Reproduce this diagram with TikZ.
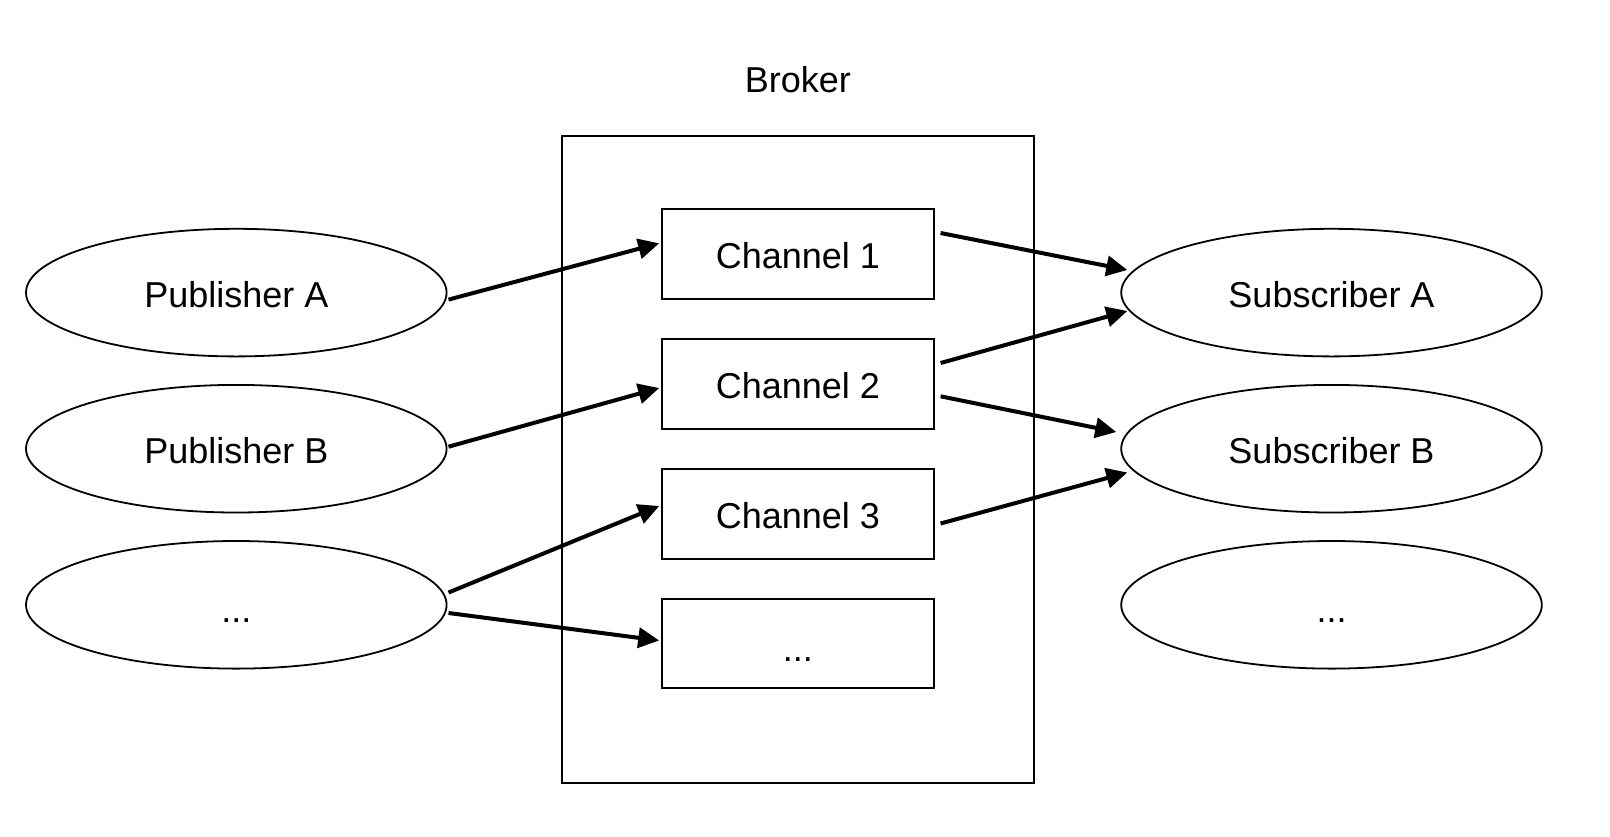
\documentclass[tikz,border=0pt]{standalone}
\usepackage{fontspec}
\setmainfont{Liberation Sans}
\usetikzlibrary{shapes.geometric,arrows.meta,calc}
\begin{document}
\begin{tikzpicture}[x=0.5pt,y=-0.5pt,
  every node/.style={font=\fontsize{18}{21}\selectfont},
  actor/.style={draw,ellipse,line width=0.9pt,minimum width=210.3pt,minimum height=63.8pt,inner sep=0pt},
  chan/.style={draw,rectangle,line width=1pt,minimum width=136.2pt,minimum height=44.8pt,inner sep=0pt},
  frame/.style={draw,line width=1pt},
  lbl/.style={yshift=-1pt},
  dots/.style={yshift=-2.5pt},
  link/.style={line width=2pt,-{Triangle[length=10.5pt,width=10pt]}}]
\useasboundingbox (0,0) rectangle (1610,836);
% broker
\node[frame,minimum width=236.15pt,minimum height=323.95pt,inner sep=0pt] (broker) at (797.85,459.45) {};
\node (blabel) at (797.8,80) {Broker};
% channels
\node[chan] (c1) at (797.9,254) {};
\node[chan] (c2) at (797.9,384) {};
\node[chan] (c3) at (797.9,514) {};
\node[chan] (c4) at (797.9,643.5) {};
\node[lbl] (t1) at (c1) {Channel 1};
\node[lbl] (t2) at (c2) {Channel 2};
\node[lbl] (t3) at (c3) {Channel 3};
\node[dots] (t4) at (c4) {\vphantom{Ch}...};
% publishers
\node[actor] (pa) at (236.3,292.6) {};
\node[actor] (pb) at (236.3,448.7) {};
\node[actor] (pc) at (236.3,604.8) {};
\node[lbl] (tpa) at (pa) {Publisher A};
\node[lbl] (tpb) at (pb) {Publisher B};
\node[dots] (tpc) at (pc) {\vphantom{Ch}...};
% subscribers
\node[actor] (sa) at (1331.5,292.6) {};
\node[actor] (sb) at (1331.5,448.7) {};
\node[actor] (sc) at (1331.5,604.8) {};
\node[lbl] (tsa) at (sa) {Subscriber A};
\node[lbl] (tsb) at (sb) {Subscriber B};
\node[dots] (tsc) at (sc) {\vphantom{Ch}...};
% connectors
\draw[link] ($(pa.east)+(1,7)$) -- ($(c1.west)+(-1.5,-10.7)$);
\draw[link] ($(c1.east)+(5.5,-21)$) -- ($(sa.west)+(7,-22.6)$);
\draw[link] ($(c2.east)+(5.5,-21)$) -- ($(sa.west)+(7,18.4)$);
\draw[link] ($(pb.east)+(1,-2)$) -- ($(c2.west)+(-1.5,4)$);
\draw[link] ($(c2.east)+(5.5,12.3)$) -- ($(sb.west)+(-4,-16.7)$);
\draw[link] ($(c3.east)+(5.5,9.5)$) -- ($(sb.west)+(7,23.8)$);
\draw[link] ($(pc.east)+(1,-12.3)$) -- ($(c3.west)+(-1.5,-8)$);
\draw[link] ($(pc.east)+(1,8.2)$) -- ($(c4.west)+(-1.5,-3)$);
\end{tikzpicture}
\end{document}
